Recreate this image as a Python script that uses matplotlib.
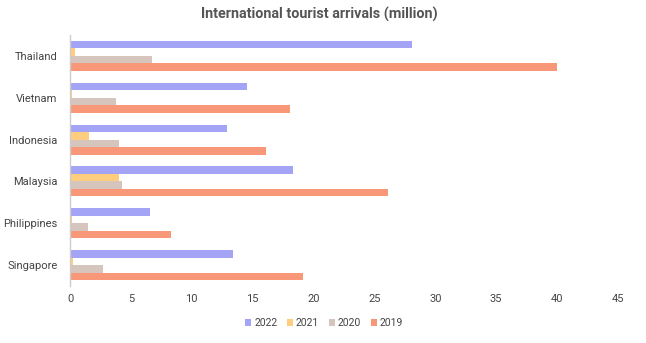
import matplotlib
matplotlib.use("Agg")
import matplotlib.pyplot as plt
import numpy as np

countries = ["Thailand", "Vietnam", "Indonesia", "Malaysia", "Philippines", "Singapore"]
series_names = ["2022", "2021", "2020", "2019"]
v2022 = [28.1, 14.5, 12.9, 18.3, 6.6, 13.4]
v2021 = [0.45, 0.15, 1.6, 4.0, 0.17, 0.26]
v2020 = [6.7, 3.8, 4.05, 4.3, 1.5, 2.7]
v2019 = [40.0, 18.1, 16.1, 26.1, 8.3, 19.1]
xticks = [0, 5, 10, 15, 20, 25, 30, 35, 40, 45]
colors = ["#a4a4f7", "#fecd7e", "#d5c5bd", "#f99878"]

plt.rcParams['font.family'] = ['Roboto', 'DejaVu Sans']

fig = plt.figure(figsize=(6.46, 3.43), dpi=100)
ax = fig.add_axes([70/646, 1-286/343, 548/646, 251/343])

n = len(countries)
ypos = np.arange(n)[::-1]
bh = 0.18
offsets = [1.5*bh, 0.5*bh, -0.5*bh, -1.5*bh]
for vals, name, c, off in zip([v2022, v2021, v2020, v2019], series_names, colors, offsets):
    ax.barh(ypos + off, vals, height=bh, color=c, label=name)

ax.set_xlim(0, 45)
ax.set_ylim(-0.5, n - 0.5)
ax.set_xticks(xticks)
ax.set_xticklabels([str(t) for t in xticks])
ax.set_yticks(ypos)
ax.set_yticklabels(countries)
ax.tick_params(axis='both', length=0, labelsize=8, labelcolor='#444444')
ax.tick_params(axis='x', pad=6)
ax.tick_params(axis='y', pad=9)
for s in ['top', 'right', 'bottom']:
    ax.spines[s].set_visible(False)
ax.spines['left'].set_color('#cccccc')
ax.spines['left'].set_linewidth(1)

fig.text(0.494, 1-14/343, "International tourist arrivals (million)", ha='center', va='center',
         fontsize=10.4, fontweight='bold', color='#555555')

leg = fig.legend(loc='center', bbox_to_anchor=(324/646, 1-323/343), ncol=4, frameon=False,
                 fontsize=7.5, handlelength=0.6, handleheight=0.6, handletextpad=0.3,
                 columnspacing=0.9, labelcolor='#444444')

fig.savefig("out.png", dpi=100)
